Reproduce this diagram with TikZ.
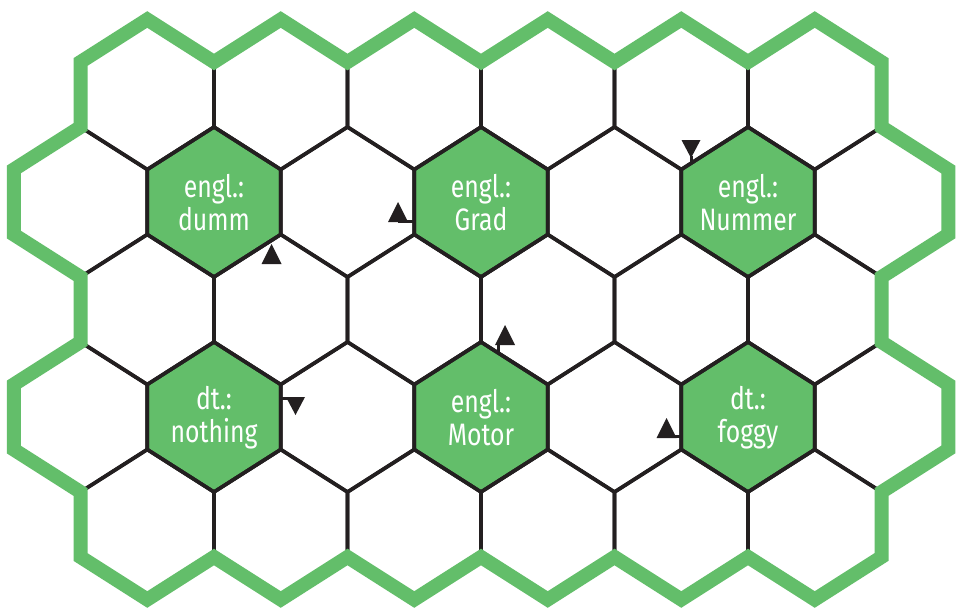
\documentclass[tikz,border=0pt]{standalone}
\usepackage{fontspec}
\usepackage{tikz}
\usetikzlibrary{calc}
\newfontfamily\hexfont[FakeStretch=0.8]{Fira Sans}
\definecolor{hexgreen}{RGB}{99,190,106}
\definecolor{hexline}{RGB}{35,31,32}
\tikzset{
  hexedge/.style={draw=hexline, line width=3.6pt, line join=miter},
  rim/.style={draw=hexgreen, line width=14pt, line join=miter},
  word/.style={text=white, align=center, inner sep=0pt, font=\hexfont\fontsize{31}{33}\selectfont},
  stem/.style={draw=hexline, line width=3pt}
}
\newcommand{\hexat}[2]{({#1},{#2}) ++(0,-75) -- ++(66.75,42.5) -- ++(0,65) -- ++(-66.75,42.5) -- ++(-66.75,-42.5) -- ++(0,-65) -- cycle}

\begin{document}
\begin{tikzpicture}[x=1pt, y=-1pt]
\useasboundingbox (0,0) rectangle (962,610);
\fill[white] (0,0) rectangle (962,610);
\foreach \xc/\yc in {214/202, 481/202, 748/202, 214/417, 481/417, 748/417}
  \fill[hexgreen] \hexat{\xc}{\yc};
\foreach \rw/\last/\xs in {0/5/147.25, 1/6/80.5, 2/5/147.25, 3/6/80.5, 4/5/147.25}
  \foreach \i in {0,...,\last}
    \draw[hexedge] \hexat{\xs+133.5*\i}{94.5+107.5*\rw};
\draw[rim] (80.5,62) \foreach \i in {0,...,5} { -- ({147.25+133.5*\i},19.5) -- ({214+133.5*\i},62) }
  -- (881.5,127) -- (948.25,169.5) -- (948.25,234.5) -- (881.5,277) -- (881.5,342)
  -- (948.25,384.5) -- (948.25,449.5) -- (881.5,492) -- (881.5,557)
  \foreach \i in {5,...,0} { -- ({147.25+133.5*\i},599.5) -- ({80.5+133.5*\i},557) }
  -- (80.5,492) -- (13.75,449.5) -- (13.75,384.5) -- (80.5,342) -- (80.5,277)
  -- (13.75,234.5) -- (13.75,169.5) -- (80.5,127) -- cycle;
\node[word] (dumm) at (214,203) {engl.:\\dumm};
\node[word] (grad) at (481,203) {engl.:\\Grad};
\node[word] (nummer) at (748,203) {engl.:\\Nummer};
\node[word] (nothing) at (214,418) {dt.:\\nothing};
\node[word] (motor) at (481,418) {engl.:\\Motor};
\node[word] (foggy) at (748,418) {dt.:\\foggy};
\foreach \xt/\yb in {271.5/264, 398/222, 505/345, 666.5/438}
  \fill[hexline] (\xt-10,\yb) -- (\xt+10,\yb) -- (\xt,\yb-20) -- cycle;
\foreach \xt/\yb in {691/140, 295.5/397}
  \fill[hexline] (\xt-9.5,\yb) -- (\xt+9.5,\yb) -- (\xt,\yb+18) -- cycle;
\draw[stem] (398,221) -- (414,221);
\draw[stem] (498.5,344) -- (498.5,353);
\draw[stem] (691,156) -- (691,164);
\draw[stem] (295.5,398.5) -- (281,398.5);
\draw[stem] (666.5,436.5) -- (681,436.5);
\end{tikzpicture}
\end{document}
